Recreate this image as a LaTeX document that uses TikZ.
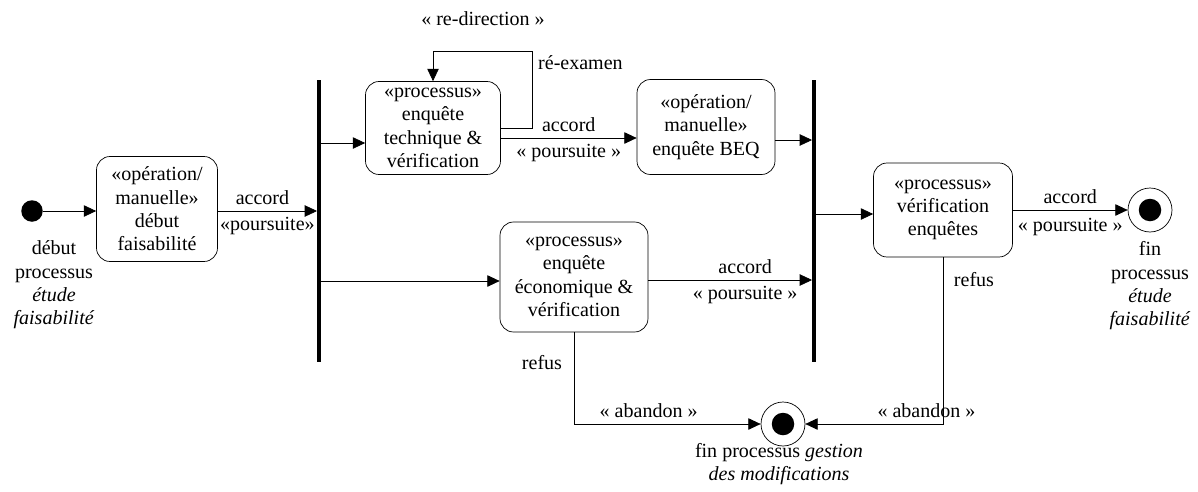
\documentclass[tikz,border=0pt]{standalone}
\usepackage{fontspec}
\setmainfont{Liberation Serif}
\usepackage{tikz}
\usetikzlibrary{positioning,arrows.meta}

\tikzset{
  activity/.style={draw, rounded corners=0.27cm, align=center, inner sep=2pt},
  forkbar/.style={fill=black, minimum width=0.065cm, minimum height=5.64cm, inner sep=0pt},
  flow/.style={-{Triangle[length=7pt,width=6.5pt]}},
  startdot/.style={circle, fill=black, minimum size=0.43cm, inner sep=0pt},
  enddot/.style={circle, draw, minimum size=0.88cm, inner sep=0pt,
    path picture={\fill[black] (path picture bounding box.center) circle (0.225cm);}},
}

\begin{document}
\begin{tikzpicture}[x=0.02cm, y=-0.02cm, every node/.style={font=\fontsize{11.4}{13.3}\selectfont}]
  \useasboundingbox (0,0) rectangle (1198,491);

  % points de depart et de fin
  \node[startdot] (start) at (32,211) {};
  \node[align=center] (startlbl) at (54,285) {début\\processus\\\textit{étude}\\\textit{faisabilité}};
  \node[enddot] (endok) at (1150,210) {};
  \node[align=center] (endoklbl) at (1150,286) {fin\\processus\\\textit{étude}\\\textit{faisabilité}};
  \node[enddot] (endko) at (783,424) {};
  \node[align=center] (endkolbl) at (779,464) {fin processus \textit{gestion}\\\textit{des modifications}};

  % activites
  \node[activity, minimum width=2.42cm, minimum height=2.1cm] (debut) at (157,209) {«opération/\\manuelle»\\début\\faisabilité};
  \node[activity, minimum width=2.7cm, minimum height=1.86cm] (technique) at (433,128) {«processus»\\enquête\\technique \&\\vérification};
  \node[activity, minimum width=2.76cm, minimum height=1.9cm] (beq) at (706,127) {«opération/\\manuelle»\\enquête BEQ};
  \node[activity, minimum width=2.96cm, minimum height=2.2cm] (economique) at (574,277) {«processus»\\enquête\\économique \&\\vérification};
  \node[activity, minimum width=2.78cm, minimum height=1.88cm] (verif) at (943,210) {«processus»\\vérification\\enquêtes};

  % barres de synchronisation
  \node[forkbar] (fork) at (319,221) {};
  \node[forkbar] (join) at (814,221) {};

  % transitions
  \draw[flow] (start) -- (debut.west |- start);
  \draw[flow] (debut.east |- 0,211) -- (fork.west |- 0,211)
    node[midway, above, xshift=-0.1cm] (lbl1a) {accord}
    node[midway, below] (lbl1b) {«poursuite»};
  \draw[flow] (fork.east |- 0,143) -- (technique.west |- 0,143);
  \draw[flow] (fork.east |- 0,281) -- (economique.west |- 0,281);
  \draw[flow] (technique.east |- 0,128) -- (532,128) -- (532,51) -| (technique.north);
  \node[anchor=west] (reexamen) at (532,63) {ré-examen};
  \node (redirection) at (483,19) {« re-direction »};
  \draw[flow] (technique.east |- 0,138) -- (beq.west |- 0,138)
    node[midway, above] (lbl2a) {accord}
    node[midway, below] (lbl2b) {« poursuite »};
  \draw[flow] (beq.east |- 0,140) -- (join.west |- 0,140);
  \draw[flow] (economique.east |- 0,280) -- (join.west |- 0,280)
    node[midway, above, xshift=0.3cm] (lbl3a) {accord}
    node[midway, below, xshift=0.3cm] (lbl3b) {« poursuite »};
  \draw[flow] (join.east |- 0,214) -- (verif.west |- 0,214);
  \draw[flow] (verif.east |- endok) -- (endok.west)
    node[midway, above] (lbl4a) {accord}
    node[midway, below=1pt] (lbl4b) {« poursuite »};
  \draw[flow] (economique.south) |- (endko.west)
    node[pos=0.7, above] (lbl5b) {« abandon »};
  \node (refus1) at (542,363) {refus};
  \draw[flow] (verif.south) |- (endko.east)
    node[pos=0.56, above] (lbl6b) {« abandon »};
  \node (refus2) at (974,280) {refus};
\end{tikzpicture}
\end{document}
